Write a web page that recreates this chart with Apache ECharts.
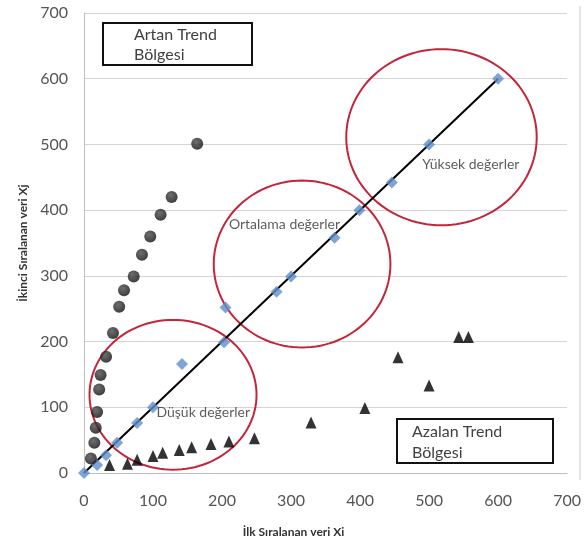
<!DOCTYPE html>
<html>
<head>
<meta charset="utf-8">
<script src="https://cdn.jsdelivr.net/npm/echarts@6/dist/echarts.min.js"></script>
<style>
html,body{margin:0;padding:0;background:#fff;}
#chart{width:584px;height:543px;}
</style>
</head>
<body>
<div id="chart"></div>
<script>
// Artan trend (circles)
var artanData = [[10,22],[15,46],[17,69],[19,93],[22,127],[24,149],[32,177],[42,213],[51,253],[58,278],[72,299],[84,332],[96,360],[111,393],[127,420],[164,501]];
// Diagonal points (diamonds)
var diagData = [[0,0],[19,12],[32,27],[48,46],[77,76],[100,100],[142,166],[203,199],[205,252],[279,276],[300,299],[363,358],[399,400],[446,442],[500,500],[600,600]];
// Azalan trend (triangles)
var azalanData = [[37,12],[63,14],[77,20],[100,26],[114,31],[138,35],[156,39],[184,44],[210,48],[247,53],[329,77],[407,99],[455,176],[500,133],[543,207],[557,207]];
// y = x reference line
var lineData = [[0,0],[600,600]];
// Ellipses: [centerX, centerY, radiusX, radiusY] in data units
var ellipseData = [[129,119,121,114],[316,318,128,127],[518,511,138,134]];
// Region labels
var regionLabels = [
  {name:'Düşük değerler', value:[105,92]},
  {name:'Ortalama değerler', value:[210,378]},
  {name:'Yüksek değerler', value:[490,469]}
];
var xTicks = [0,100,200,300,400,500,600,700];
var yTicks = [0,100,200,300,400,500,600,700];

var FONT = 'Lato, "Liberation Sans", sans-serif';
var chart = echarts.init(document.getElementById('chart'), null, {renderer:'canvas'});

var option = {
  animation:false,
  backgroundColor:'#fff',
  grid:{left:84, right:11, top:13, bottom:70, containLabel:false},
  xAxis:{
    type:'value', min:xTicks[0], max:xTicks[xTicks.length-1], interval:100,
    name:'İlk Sıralanan veri Xi', nameLocation:'middle', nameGap:53,
    nameTextStyle:{fontFamily:FONT, fontWeight:'bold', fontSize:12, color:'#333', padding:[0,64,0,0]},
    axisLine:{show:true, lineStyle:{color:'#bfbfbf', width:1}},
    axisTick:{show:false},
    axisLabel:{fontFamily:FONT, fontSize:16, color:'#555', margin:20},
    splitLine:{show:false}
  },
  yAxis:{
    type:'value', min:yTicks[0], max:yTicks[yTicks.length-1], interval:100,
    name:'İkinci Sıralanan veri Xj', nameLocation:'middle', nameGap:55,
    nameTextStyle:{fontFamily:FONT, fontWeight:'bold', fontSize:12, color:'#333'},
    axisLine:{show:true, lineStyle:{color:'#bfbfbf', width:1}},
    axisTick:{show:false},
    axisLabel:{fontFamily:FONT, fontSize:16, color:'#555', margin:16},
    splitLine:{show:true, lineStyle:{color:'#d4d4d4', width:1}}
  },
  graphic:[
    {type:'line', shape:{x1:580, y1:6, x2:580, y2:480}, style:{stroke:'#c8c8c8', lineWidth:1}},
    {type:'rect', shape:{x:103, y:23, width:149, height:42}, style:{fill:'#fff', stroke:'#111', lineWidth:2}, z:10},
    {type:'text', left:134, top:25, z:11, style:{text:'Artan Trend\nBölgesi', font:'16px Lato', fill:'#404040', lineHeight:20}},
    {type:'rect', shape:{x:397, y:419, width:156, height:44}, style:{fill:'#fff', stroke:'#111', lineWidth:2}, z:10},
    {type:'text', left:412, top:421, z:11, style:{text:'Azalan Trend\nBölgesi', font:'16px Lato', fill:'#404040', lineHeight:21}}
  ],
  series:[
    {
      type:'custom', name:'ellipses', data:ellipseData, z:3, silent:true,
      renderItem:function(params, api){
        var c = api.coord([api.value(0), api.value(1)]);
        var s = api.size([api.value(2), api.value(3)]);
        var pts = [];
        for (var i=0;i<120;i++){
          var t = i/120*Math.PI*2;
          pts.push([c[0]+s[0]*Math.cos(t), c[1]+s[1]*Math.sin(t)]);
        }
        return {type:'polygon', shape:{points:pts}, style:{fill:'none', stroke:'#c3253a', lineWidth:2}};
      }
    },
    {
      type:'line', data:lineData, symbol:'none', z:4,
      lineStyle:{color:'#000', width:2}
    },
    {
      type:'scatter', data:diagData, symbol:'diamond', symbolSize:[12,12], z:5,
      itemStyle:{color:'#5f8ecd'}
    },
    {
      type:'scatter', data:artanData, symbol:'circle', symbolSize:12, z:5,
      itemStyle:{color:{type:'radial', x:0.4, y:0.35, r:0.7, colorStops:[{offset:0,color:'#4a4a4a'},{offset:1,color:'#0a0a0a'}]}}
    },
    {
      type:'scatter', data:azalanData, symbol:'triangle', symbolSize:[11,12], z:5,
      itemStyle:{color:'#000'}
    },
    {
      type:'scatter', data:regionLabels, symbolSize:0, z:6, silent:true,
      label:{show:true, position:'right', distance:0, formatter:'{b}', fontFamily:FONT, fontSize:14, color:'#333'}
    }
  ]
};
chart.setOption(option);
</script>
</body>
</html>
